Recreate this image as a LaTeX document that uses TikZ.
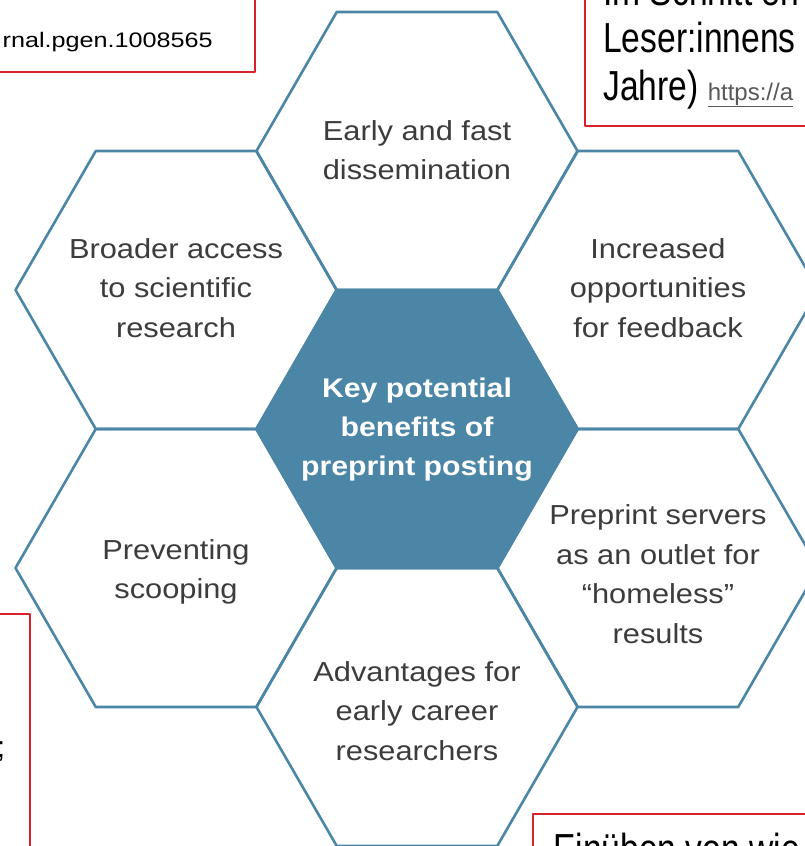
\documentclass[tikz,border=0pt]{standalone}
\usepackage{fontspec}
\setmainfont{Liberation Sans}
\newfontfamily\hexfont{Liberation Sans}[FakeStretch=1.12]
\newfontfamily\narrowfont{Liberation Sans}[FakeStretch=0.8]
\newfontfamily\widefont{Liberation Sans}[FakeStretch=1.2]
\usetikzlibrary{shapes.geometric}
\definecolor{hexblue}{HTML}{4C86A7}
\definecolor{hextext}{HTML}{3C3C3C}
\definecolor{boxred}{HTML}{D7212B}
\definecolor{linkgray}{HTML}{595959}

\begin{document}
\begin{tikzpicture}[x=1pt,y=-1pt,line join=round,
  hex/.style={regular polygon,regular polygon sides=6,minimum size=321pt,
    inner sep=0pt,outer sep=0pt,draw=hexblue,line width=2.6pt},
  hextxt/.style={align=center,text=hextext,inner sep=0pt,
    font=\hexfont\fontsize{27.5}{39.5}\selectfont},
  notebox/.style={draw=boxred,line width=2pt,fill=white},
  notetxt/.style={anchor=base west,inner sep=0pt,
    font=\narrowfont\fontsize{42}{47}\selectfont}]

\useasboundingbox (0,0) rectangle (805,846);
\clip (0,0) rectangle (805,846);

% honeycomb
\node[hex,fill=hexblue] (key) at (417,429) {};
\node[hex] (early) at (417,151) {};
\node[hex] (broad) at (176,290) {};
\node[hex] (feed) at (658,290) {};
\node[hex] (scoop) at (176,568) {};
\node[hex] (homeless) at (658,568) {};
\node[hex] (career) at (417,707) {};

% texts in the cells
\node[hextxt,text=white,font=\hexfont\bfseries\fontsize{27}{39}\selectfont]
  (t-key) at (417,430) {Key potential\\benefits of\\preprint posting};
\node[hextxt] (t-early) at (417,150) {Early and fast\\dissemination};
\node[hextxt] (t-broad) at (176,288) {Broader access\\to scientific\\research};
\node[hextxt] (t-feed) at (658,288) {Increased\\opportunities\\for feedback};
\node[hextxt] (t-scoop) at (176,572) {Preventing\\scooping};
\node[hextxt] (t-homeless) at (658,574)
  {Preprint servers\\as an outlet for\\“homeless”\\results};
\node[hextxt] (t-career) at (417,711) {Advantages for\\early career\\researchers};

% note boxes on top
\draw[notebox] (-10,-10) rectangle (255,72);
\node[anchor=base east,inner sep=0pt,font=\widefont\fontsize{21}{25}\selectfont]
  (doi) at (213,47) {rnal.pgen.1008565};

\draw[notebox] (585,-10) rectangle (815,126);
\node[notetxt] (n1) at (603,5) {Im Schnitt en};
\node[notetxt] (n2) at (603,52) {Leser:innens};
\node[notetxt] (n3) at (603,100) {Jahre)
  {\rmfamily\fontsize{24}{28}\selectfont\color{linkgray}\underline{https://a}}};

\draw[notebox] (-10,614) rectangle (30,860);
\node[anchor=base east,inner sep=0pt,font=\fontsize{30}{36}\selectfont]
  (semi) at (5.4,757) {;};

\draw[notebox] (533,814) rectangle (815,870);
\node[notetxt] (n4) at (553,863) {Einüben von wie};

\end{tikzpicture}
\end{document}
